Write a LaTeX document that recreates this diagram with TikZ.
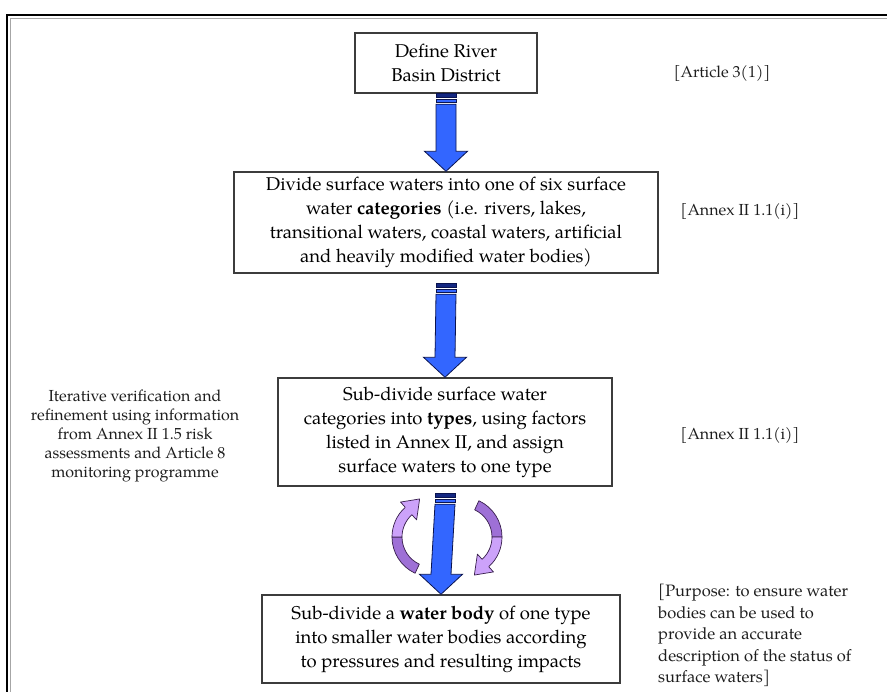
\documentclass[tikz,border=0pt]{standalone}
\usepackage{fontspec}
\setmainfont{TeX Gyre Pagella}
\usetikzlibrary{calc}
\definecolor{arrowblue}{RGB}{51,102,255}
\definecolor{arrowdark}{RGB}{20,40,130}
\definecolor{arrowline}{RGB}{10,20,80}
\definecolor{lightpurple}{RGB}{204,162,250}
\definecolor{darkpurple}{RGB}{158,112,214}
\definecolor{purpleline}{RGB}{55,30,75}
\definecolor{boxline}{RGB}{60,60,60}
\definecolor{txt}{RGB}{30,30,30}
\tikzset{
  box/.style={draw=boxline, line width=1.4pt, fill=white, align=center, inner sep=0pt,
    text=black, font=\fontsize{18.5}{24}\selectfont},
  note/.style={align=center, inner sep=0pt, text=txt, font=\fontsize{16}{19}\selectfont},
  ref/.style={inner sep=0pt, text=txt, font=\fontsize{16}{19}\selectfont},
  blockarrow/.style={draw=arrowline, line width=0.8pt, fill=arrowblue, line join=miter},
  stripedark/.style={draw=arrowline, line width=0.8pt, fill=arrowdark},
  curvlight/.style={draw=purpleline, line width=0.7pt, fill=lightpurple, line join=round},
  curvdark/.style={draw=purpleline, line width=0.7pt, fill=darkpurple, line join=round},
}
\newcommand\stripedarrow[2]{%
  \draw[stripedark] ($(#1)+(-10,0)$) rectangle ($(#1)+(10,4)$);
  \draw[blockarrow] ($(#1)+(-10,5.5)$) rectangle ($(#1)+(10,9)$);
  \draw[blockarrow] ($(#1)+(-10,10.5)$) -- ($(#2)+(-10,-20)$) -- ($(#2)+(-21.5,-20)$)
     -- (#2) -- ($(#2)+(21.5,-20)$) -- ($(#2)+(10,-20)$) -- ($(#1)+(10,10.5)$) -- cycle;}
\begin{document}
\begin{tikzpicture}[x=1pt,y=-1pt]
\useasboundingbox (0,0) rectangle (887,692);
\fill[white] (0,0) rectangle (887,692);
% frame
\draw[black!35, line width=1pt] (10.5,692) -- (10.5,18.5) -- (887,18.5);
\draw[black, line width=2.6pt] (7,692) -- (7,15) -- (887,15);

% boxes
\node[box, minimum width=182, minimum height=60] (b1) at (446,63) {Define River\\Basin District};
\node[box, minimum width=424, minimum height=101] (b2) at (446,222.5)
  {Divide surface waters into one of six surface\\water \textbf{categories} (i.e. rivers, lakes,\\transitional waters, coastal waters, artificial\\and heavily modified water bodies)};
\node[box, minimum width=334, minimum height=108] (b3) at (445,432)
  {Sub-divide surface water\\categories into \textbf{types}, using factors\\listed in Annex II, and assign\\surface waters to one type};
\node[box, minimum width=358, minimum height=88] (b4) at (441,639)
  {Sub-divide a \textbf{water body} of one type\\into smaller water bodies according\\to pressures and resulting impacts};

% references
\node[ref] (art) at (722,74) {[Article 3(1)]};
\node[ref] (an1) at (740,212) {[Annex II 1.1(i)]};
\node[ref] (an2) at (740,436) {[Annex II 1.1(i)]};
\node[note] (lt) at (135,436) {Iterative verification and\\refinement using information\\from Annex II 1.5 risk\\assessments and Article 8\\monitoring programme};
\node[ref, anchor=north west, align=left, font=\fontsize{16.5}{21.5}\selectfont] (pur) at (658,584)
  {[Purpose: to ensure water\\bodies can be used to\\provide an accurate\\description of the status of\\surface waters]};

% block arrows
\coordinate (a1s) at (b1.south);
\coordinate (a2s) at ($(b2.south)+(0,10)$);
\coordinate (a3s) at ($(b3.south)+(0,7)$);
\stripedarrow{a1s}{b2.north}
\stripedarrow{a2s}{b3.north}
\stripedarrow{a3s}{b4.north}

% circular arrows
\foreach \rot in {0,180}{
\begin{scope}[rotate around={\rot:(447,537)}]
  \draw[curvdark] ($(432,537)+(115:40)$) arc[start angle=115, end angle=180, radius=40]
     -- ($(432,537)+(180:30)$) arc[start angle=180, end angle=115, radius=30] -- cycle;
  \draw[curvlight] ($(432,537)+(180:40)$) arc[start angle=180, end angle=228, radius=40]
     -- ($(432,537)+(228:47)$) -- ($(432,537)+(252:40)$) -- ($(432,537)+(228:23)$)
     -- ($(432,537)+(228:30)$) arc[start angle=228, end angle=180, radius=30] -- cycle;
\end{scope}}
\end{tikzpicture}
\end{document}
